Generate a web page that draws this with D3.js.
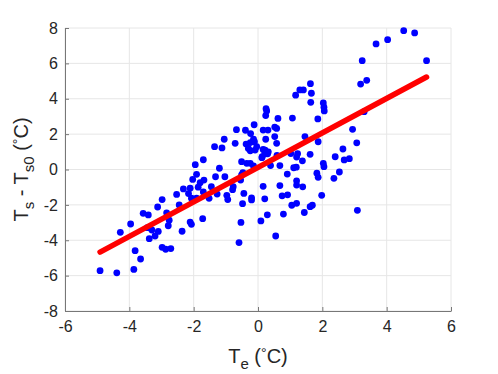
<!DOCTYPE html>
<html>
<head>
<meta charset="utf-8">
<script src="https://cdn.jsdelivr.net/npm/d3@7/dist/d3.min.js"></script>
<style>
  html, body { margin: 0; padding: 0; background: #fff; }
  svg { display: block; }
  text { font-family: "Liberation Sans", Arial, Helvetica, sans-serif; fill: #262626; }
</style>
</head>
<body>
<svg id="chart" width="498" height="374"></svg>
<script>
// ---- data ----
const teValues = [
  4.53, 4.87, 4.03, 3.67, 3.24, 5.24, 3.19, 3.38, 3.30, 1.63,
  1.30, 1.41, 1.17, 1.66, 1.64, 2.03, 2.05, 2.06, 1.07, 0.62,
  1.86, 0.25, 0.27, 0.24, -0.12, 0.16, 0.31, 0.52, 0.58, 0.52,
  0.24, 0.58, 2.94, 3.07, 2.64, 2.40, 2.68, 2.84, 2.53, 1.46,
  1.87, 1.62, 1.23, 1.20, 1.38, 1.19, 1.11, 1.02, 0.91, 0.68,
  0.39, 0.59, 0.13, 0.21, 0.30, 0.16, 2.03, 2.05, 1.83, 1.87,
  2.36, 0.16, 0.68, 1.20, 1.20, 1.39, 1.98, -0.20, -0.20, 0.21,
  0.75, 0.92, 1.05, 1.20, 1.44, 1.62, 1.69, 0.29, 0.79, 0.09,
  0.55, 3.09, -0.39, -0.23, -0.67, -0.14, -0.11, -1.05, -1.35, -1.12,
  -0.71, -0.37, -0.24, -0.04, -0.24, -0.35, -0.24, -0.14, -0.47, -1.95,
  -1.70, -1.91, -1.20, -1.32, -1.03, -2.03, -1.68, -1.80, -2.32, -2.11,
  -1.86, -1.45, -0.77, -2.53, -2.45, -2.98, -3.12, -3.57, -3.41, -2.84,
  -2.76, -2.79, -3.96, -4.28, -3.44, -3.30, -3.10, -3.38, -3.20, -2.36,
  -1.72, -2.11, -2.07, -2.98, -2.87, -2.71, -3.82, -3.65, -3.86, -4.91,
  -4.39, -0.97, -0.94, -0.79, -0.54, -0.51, -0.44, -0.48, -0.53, -0.59,
  -2.16, -2.07, -1.91, -1.27, -1.52, -0.30, -0.09, 0.22, 0.32, 0.12,
  -0.51, -1.70
];
const tsValues = [
  7.85, 7.72, 7.34, 7.10, 6.15, 6.15, 4.83, 5.04, 3.27, 4.85,
  4.50, 4.50, 4.20, 4.31, 3.80, 3.76, 3.52, 3.31, 2.91, 2.89,
  2.86, 3.44, 3.31, 3.05, 2.53, 2.23, 2.23, 2.40, 2.32, 1.86,
  1.71, 1.48, 2.27, 1.51, 1.16, 0.72, 0.54, 0.61, -0.14, 1.86,
  1.57, 0.86, 0.89, 0.70, 0.49, 0.13, 0.10, 0.90, -0.26, 0.22,
  0.22, 0.80, 0.72, 0.88, 0.89, 1.13, 0.35, 0.16, -0.21, -0.44,
  -0.50, -0.95, -0.91, -0.64, -0.88, -0.98, -1.46, -1.60, -1.72, -1.66,
  -1.49, -1.43, -2.02, -1.91, -2.43, -2.10, -2.02, -2.56, -2.52, -2.91,
  -3.76, -2.31, 2.22, 2.03, 2.25, 1.71, 1.57, 1.71, 1.29, 1.22,
  1.48, 1.44, 1.52, 1.29, 1.06, 0.35, 0.35, 0.20, -0.18, 0.27,
  0.55, -0.27, 0.07, -0.41, -0.41, -0.56, -0.60, -0.75, -1.10, -1.06,
  -1.00, -0.97, -0.97, -1.41, -2.00, -1.70, -2.12, -2.48, -2.57, -2.45,
  -2.87, -3.18, -3.08, -3.55, -3.29, -3.42, -3.50, -3.91, -3.76, -3.49,
  -2.78, -2.97, -3.10, -4.40, -4.51, -4.47, -4.59, -5.06, -5.65, -5.72,
  -5.84, -1.46, -1.70, -1.14, -0.60, -0.31, -1.35, -1.93, -2.99, -4.13,
  -1.36, -1.62, -1.62, -1.39, -1.63, 1.19, 1.10, 1.10, 1.00, 0.67,
  0.44, -1.27
];
const fitSlope = 0.975;
const fitIntercept = 0.12;
const xTicks = [-6, -4, -2, 0, 2, 4, 6];
const yTicks = [-8, -6, -4, -2, 0, 2, 4, 6, 8];

// ---- layout ----
const svg = d3.select("#chart");
const plot = { left: 65, right: 451, top: 28, bottom: 311 };
const x = d3.scaleLinear().domain([-6, 6]).range([plot.left, plot.right]);
const y = d3.scaleLinear().domain([-8, 8]).range([plot.bottom, plot.top]);

// grid
const grid = svg.append("g").attr("stroke", "#e6e6e6").attr("stroke-width", 1);
grid.selectAll("line.vx").data(xTicks).join("line")
  .attr("x1", d => x(d)).attr("x2", d => x(d))
  .attr("y1", plot.top).attr("y2", plot.bottom);
grid.selectAll("line.hy").data(yTicks).join("line")
  .attr("x1", plot.left).attr("x2", plot.right)
  .attr("y1", d => y(d)).attr("y2", d => y(d));

// axes (ticks inward, MATLAB style)
const xAxis = d3.axisBottom(x).tickValues(xTicks).tickSizeInner(-4).tickSizeOuter(0).tickPadding(10)
  .tickFormat(d => d3.format("d")(d).replace("−", "-"));
const yAxis = d3.axisLeft(y).tickValues(yTicks).tickSizeInner(-4).tickSizeOuter(0).tickPadding(7)
  .tickFormat(d => d3.format("d")(d).replace("−", "-"));

const gx = svg.append("g").attr("transform", `translate(0,${plot.bottom})`).call(xAxis);
const gy = svg.append("g").attr("transform", `translate(${plot.left},0)`).call(yAxis);
[gx, gy].forEach(g => {
  g.select(".domain").attr("stroke", "#777777").attr("stroke-width", 1);
  g.selectAll(".tick line").attr("stroke", "#777777").attr("stroke-width", 1);
  g.selectAll(".tick text").attr("font-size", 16).attr("fill", "#262626")
    .attr("font-family", "'Liberation Sans', Arial, sans-serif");
});

// scatter points
svg.append("g").selectAll("circle").data(teValues.map((t, i) => [t, tsValues[i]])).join("circle")
  .attr("cx", d => x(d[0])).attr("cy", d => y(d[1])).attr("r", 3.4)
  .attr("fill", "#0000ff");

// regression line
const ext = d3.extent(teValues);
const fitData = ext.map(t => [t, fitIntercept + fitSlope * t]);
svg.append("path").datum(fitData)
  .attr("d", d3.line().x(d => x(d[0])).y(d => y(d[1])))
  .attr("stroke", "#ff0000").attr("stroke-width", 5.5).attr("stroke-linecap", "round")
  .attr("fill", "none");

// x label
const xl = svg.append("text").attr("x", (plot.left + plot.right) / 2).attr("y", 363)
  .attr("text-anchor", "middle").attr("font-size", 20);
xl.append("tspan").text("T");
xl.append("tspan").attr("dy", 6).attr("font-size", 15).text("e");
xl.append("tspan").attr("dy", -6).text(" (");
xl.append("tspan").attr("dy", -5).attr("font-size", 14).text("°");
xl.append("tspan").attr("dy", 5).text("C)");

// y label
const yl = svg.append("text")
  .attr("transform", `translate(28,${(plot.top + plot.bottom) / 2}) rotate(-90)`)
  .attr("text-anchor", "middle").attr("font-size", 20);
yl.append("tspan").text("T");
yl.append("tspan").attr("dy", 6).attr("font-size", 15).text("s");
yl.append("tspan").attr("dy", -6).text(" - T");
yl.append("tspan").attr("dy", 6).attr("font-size", 15).text("s0");
yl.append("tspan").attr("dy", -6).text(" (");
yl.append("tspan").attr("dy", -5).attr("font-size", 14).text("°");
yl.append("tspan").attr("dy", 5).text("C)");
</script>
</body>
</html>
